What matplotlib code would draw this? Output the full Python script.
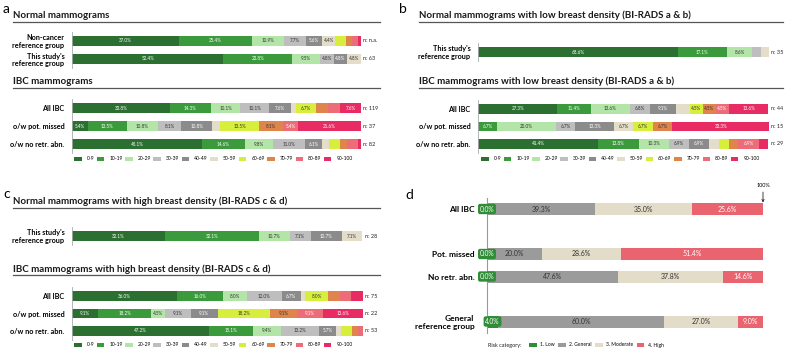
import matplotlib
matplotlib.use("Agg")
import matplotlib.pyplot as plt
from matplotlib.patches import Patch
from matplotlib.lines import Line2D
from matplotlib.transforms import blended_transform_factory

plt.rcParams['font.family'] = ['Lato', 'DejaVu Sans']

# ---------------- data ----------------
cats = ['0-9', '10-19', '20-29', '30-39', '40-49', '50-59', '60-69', '70-79', '80-89', '90-100']
colors = ['#2b6f31', '#3a9a3c', '#b4e5a8', '#bebebe', '#8b8b8b', '#e4ddc9', '#d7ef3c', '#df854c', '#ec6c78', '#e92b63']
label_col = ['white', 'white', '#333333', '#333333', 'white', '#333333', '#333333', '#333333', 'white', 'white']

a_norm_labels = ["Non-cancer\nreference group", "This study's\nreference group"]
a_norm_vals = [[37.0, 25.4, 10.9, 7.7, 5.6, 4.4, 3.8, 2.2, 1.8, 1.2],
               [52.4, 23.8, 9.5, 4.8, 4.8, 4.8, 0, 0, 0, 0]]
a_norm_n = ['n.a.', '63']

ibc_labels = ['All IBC', 'o/w pot. missed', 'o/w no retr. abn.']
a_ibc_vals = [[33.8, 14.3, 10.1, 10.1, 7.6, 1.7, 6.7, 4.2, 4.2, 7.6],
              [5.4, 13.5, 10.8, 8.1, 10.8, 2.7, 13.5, 8.1, 5.4, 21.6],
              [45.1, 14.6, 9.8, 11.0, 6.1, 2.4, 3.7, 2.4, 3.7, 1.2]]
a_ibc_n = ['119', '37', '82']

ref_labels = ["This study's\nreference group"]
b_norm_vals = [[68.6, 17.1, 8.6, 2.9, 0, 2.9, 0, 0, 0, 0]]
b_norm_n = ['35']
b_ibc_vals = [[27.3, 11.4, 13.6, 6.8, 9.1, 4.5, 4.5, 4.5, 4.5, 13.6],
              [0, 6.7, 20.0, 6.7, 13.3, 6.7, 6.7, 6.7, 0, 33.3],
              [41.4, 13.8, 10.3, 6.9, 6.9, 3.4, 3.4, 3.4, 6.9, 3.4]]
b_ibc_n = ['44', '15', '29']
b_ibc_hidden = [(0, 5)]

c_norm_vals = [[32.1, 32.1, 10.7, 7.1, 10.7, 7.1, 0, 0, 0, 0]]
c_norm_n = ['28']
c_ibc_vals = [[36.0, 16.0, 8.0, 12.0, 6.7, 1.3, 8.0, 4.0, 4.0, 4.0],
              [9.1, 18.2, 4.5, 9.1, 9.1, 0, 18.2, 9.1, 9.1, 13.6],
              [47.2, 15.1, 9.4, 13.2, 5.7, 1.9, 3.8, 1.9, 1.9, 0]]
c_ibc_n = ['75', '22', '53']

d_cats = ['1. Low', '2. General', '3. Moderate', '4. High']
d_colors = ['#2f8d37', '#9b9b9b', '#e2dcc8', '#e9646f']
d_text = ['white', '#333333', '#333333', 'white']
d_labels = ['All IBC', 'Pot. missed', 'No retr. abn.', 'General\nreference group']
d_vals = [[0.0, 39.3, 35.0, 25.6],
          [0.0, 20.0, 28.6, 51.4],
          [0.0, 47.6, 37.8, 14.6],
          [4.0, 60.0, 27.0, 9.0]]

# ---------------- layout helpers ----------------
W, H = 790, 351
fig = plt.figure(figsize=(W / 100, H / 100), dpi=100)


def px_axes(left, top, width, height):
    return fig.add_axes([left / W, 1 - (top + height) / H, width / W, height / H])


def fy(y):
    return 1 - y / H


def fx(x):
    return x / W


def title(x0, x1, y_line, text):
    fig.text(fx(x0), fy(y_line - 1.5), text, fontsize=7, fontweight='bold',
             ha='left', va='bottom', color='#1a1a1a')
    fig.add_artist(Line2D([fx(x0), fx(x1)], [fy(y_line), fy(y_line)],
                          transform=fig.transFigure, color='#555555', lw=0.9))


def group(left, right, top_center, labels, vals, ns, spacing=18, bar_px=9.5,
          hidden=(), threshold=4.4, lab_fs=5.2):
    nrow = len(vals)
    top = top_center - spacing / 2
    ax = px_axes(left, top, right - left, spacing * nrow)
    pos = list(range(nrow))
    bh = bar_px / spacing
    for i, row in enumerate(vals):
        start = 0
        for j, v in enumerate(row):
            if v > 0:
                ax.barh(pos[i], v, left=start, height=bh, color=colors[j], edgecolor='none')
                if v >= threshold and (i, j) not in hidden:
                    ax.text(start + v / 2, pos[i], f'{v:.1f}%', ha='center', va='center',
                            fontsize=3.3, color=label_col[j])
            start += v
    ax.set_xlim(0, 100)
    ax.set_ylim(nrow - 0.5, -0.5)
    ax.set_yticks(pos)
    ax.set_yticklabels(labels, fontsize=lab_fs, fontweight='bold', linespacing=1.1)
    ax.tick_params(axis='y', length=0, pad=5.5)
    ax.set_xticks([])
    for s in ['top', 'right', 'bottom']:
        ax.spines[s].set_visible(False)
    ax.spines['left'].set_color('#aaaaaa')
    ax.spines['left'].set_linewidth(0.6)
    ax.patch.set_alpha(0)
    tr = blended_transform_factory(ax.transAxes, ax.transData)
    for i, n in enumerate(ns):
        ax.text(1.008, pos[i], f'n: {n}', transform=tr, ha='left', va='center',
                fontsize=4, color='#222222')
    return ax


def cat_legend(x, y):
    handles = [Patch(facecolor=c, edgecolor='none', label=l) for c, l in zip(colors, cats)]
    fig.legend(handles=handles, loc='center left', bbox_to_anchor=(fx(x), fy(y)),
               ncol=10, frameon=False, fontsize=3.6, handlelength=1.5, handleheight=1.0,
               handletextpad=1.0, columnspacing=0.5, borderpad=0, borderaxespad=0)


# ---------------- panel a ----------------
fig.text(fx(3), fy(9), 'a', fontsize=10, ha='left', va='center')
title(13, 380, 21.5, 'Normal mammograms')
group(72, 361, 41, a_norm_labels, a_norm_vals, a_norm_n)
title(13, 380, 88, 'IBC mammograms')
group(72, 361, 108, ibc_labels, a_ibc_vals, a_ibc_n)
cat_legend(74, 159)

# ---------------- panel b ----------------
fig.text(fx(399), fy(9), 'b', fontsize=10, ha='left', va='center')
title(419, 783, 21.5, 'Normal mammograms with low breast density (BI-RADS a & b)')
group(478, 769, 52, ref_labels, b_norm_vals, b_norm_n)
title(419, 783, 88, 'IBC mammograms with low breast density (BI-RADS a & b)')
group(478, 769, 109, ibc_labels, b_ibc_vals, b_ibc_n, spacing=17.5, hidden=b_ibc_hidden)
cat_legend(481, 159)

# ---------------- panel c ----------------
fig.text(fx(3), fy(194), 'c', fontsize=10, ha='left', va='center')
title(13, 380, 208, 'Normal mammograms with high breast density (BI-RADS c & d)')
group(72, 363, 236, ref_labels, c_norm_vals, c_norm_n)
title(13, 380, 275, 'IBC mammograms with high breast density (BI-RADS c & d)')
group(72, 363, 296, ibc_labels, c_ibc_vals, c_ibc_n, spacing=17.5)
cat_legend(74, 345)

# ---------------- panel d ----------------
fig.text(fx(405), fy(195), 'd', fontsize=10, ha='left', va='center')
d_pos = [0, 2, 3, 5]
unit = 22.5
axd = px_axes(487, 209 - unit / 2, 763 - 487, unit * 6)
bh = 12 / unit
for i, row in enumerate(d_vals):
    start = 0
    for j, v in enumerate(row):
        if v > 0:
            axd.barh(d_pos[i], v, left=start, height=bh, color=d_colors[j], edgecolor='none')
        if j == 0:
            axd.text(start + v / 2, d_pos[i], f'{v:.1f}%', ha='center', va='center',
                     fontsize=4.8, color='white', zorder=5,
                     bbox=dict(boxstyle='round,pad=0.25,rounding_size=0.3',
                               facecolor=d_colors[0], edgecolor='none'))
        else:
            axd.text(start + v / 2, d_pos[i], f'{v:.1f}%', ha='center', va='center',
                     fontsize=5, color=d_text[j])
        start += v
axd.set_xlim(0, 100)
axd.set_ylim(5.5, -0.5)
axd.set_yticks(d_pos)
axd.set_yticklabels(d_labels, fontsize=6, fontweight='bold', linespacing=1.2)
axd.tick_params(axis='y', length=0, pad=9)
axd.set_xticks([])
for s in ['top', 'right', 'bottom']:
    axd.spines[s].set_visible(False)
axd.spines['left'].set_color('#999999')
axd.spines['left'].set_linewidth(0.8)
axd.patch.set_alpha(0)
axd.annotate('100%', xy=(100, -bh / 2 - 0.02), xytext=(100, -1.05), ha='center', va='center',
             fontsize=4, annotation_clip=False,
             arrowprops=dict(arrowstyle='->', lw=0.6, color='#222222', shrinkA=1, shrinkB=0))

d_handles = [Patch(facecolor=c, edgecolor='none', label=l) for c, l in zip(d_colors, d_cats)]
fig.text(fx(488), fy(345), 'Risk category:', fontsize=4, ha='left', va='center', color='#222222')
fig.legend(handles=d_handles, loc='center left', bbox_to_anchor=(fx(529), fy(345)),
           ncol=4, frameon=False, fontsize=3.6, handlelength=1.5, handleheight=1.0,
           handletextpad=0.7, columnspacing=0.7, borderpad=0, borderaxespad=0)

fig.savefig('out.png', dpi=100)
